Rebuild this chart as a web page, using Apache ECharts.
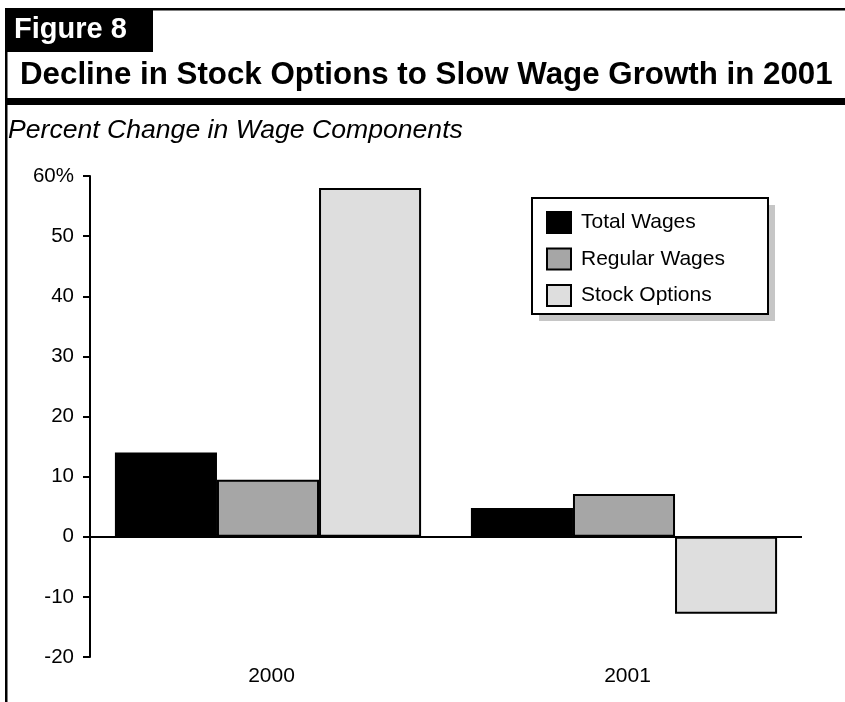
<!DOCTYPE html>
<html>
<head>
<meta charset="utf-8">
<style>
  html, body { margin: 0; padding: 0; background: #fff; }
  #chart { width: 845px; height: 702px; }
</style>
<script src="https://cdn.jsdelivr.net/npm/echarts@6/dist/echarts.min.js"></script>
</head>
<body>
<div id="chart"></div>
<script>
// Percent change in wage components, by year
const years = ['2000', '2001'];
const totalWages = [14.0, 4.8];
const regularWages = [9.5, 7.1];
const stockOptions = [58.0, -12.8];
const seriesNames = ['Total Wages', 'Regular Wages', 'Stock Options'];
const yTicks = { min: -20, max: 60, step: 10 };

const FONT = '"Liberation Sans", Arial, Helvetica, sans-serif';
const chart = echarts.init(document.getElementById('chart'), null, { renderer: 'canvas' });

function barSeries(name, values, fill) {
  return {
    name: name,
    type: 'bar',
    data: values,
    barGap: '0%',
    barCategoryGap: '14%',
    itemStyle: { color: fill, borderColor: '#000', borderWidth: 2 }
  };
}

const series = [
  barSeries(seriesNames[0], totalWages, '#000000'),
  barSeries(seriesNames[1], regularWages, '#a6a6a6'),
  barSeries(seriesNames[2], stockOptions, '#dedede')
];
// zero baseline across the plot
series[0].markLine = {
  silent: true,
  symbol: ['none', 'none'],
  label: { show: false },
  lineStyle: { color: '#000', width: 2, type: 'solid' },
  data: [{ yAxis: 0 }],
  z: 10
};

chart.setOption({
  animation: false,
  backgroundColor: '#ffffff',
  textStyle: { fontFamily: FONT },
  grid: { left: 90, right: 43, top: 176, bottom: 45, containLabel: false },
  xAxis: {
    type: 'category',
    data: years,
    axisLine: { show: false, onZero: false },
    axisTick: { show: false },
    axisLabel: { color: '#000', fontSize: 21, margin: 9, fontFamily: FONT, padding: [0, 0, 0, 7] },
    splitLine: { show: false }
  },
  yAxis: {
    type: 'value',
    min: yTicks.min,
    max: yTicks.max,
    interval: yTicks.step,
    axisLine: { show: true, lineStyle: { color: '#000', width: 2 } },
    axisTick: { show: true, length: 7, lineStyle: { color: '#000', width: 2 } },
    axisLabel: {
      color: '#000', fontSize: 20.5, margin: 16, fontFamily: FONT,
      formatter: v => (v === yTicks.max ? v + '%' : String(v))
    },
    splitLine: { show: false }
  },
  legend: {
    orient: 'vertical',
    left: 546,
    top: 211,
    padding: 0,
    z: 20,
    itemWidth: 24,
    itemHeight: 21,
    itemGap: 13.5,
    icon: 'rect',
    itemStyle: { borderColor: '#000', borderWidth: 2 },
    textStyle: { color: '#000', fontSize: 21, lineHeight: 21, fontFamily: FONT, padding: [0, 0, 0, 5] },
    data: seriesNames
  },
  graphic: [
    // frame: top rule and left rule
    { type: 'rect', shape: { x: 5, y: 8, width: 840, height: 2.5 }, style: { fill: '#000' } },
    { type: 'rect', shape: { x: 5, y: 8, width: 2.5, height: 694 }, style: { fill: '#000' } },
    // figure tab
    { type: 'rect', shape: { x: 5, y: 8, width: 148, height: 44 }, style: { fill: '#000' } },
    {
      type: 'text', left: 14, top: 15,
      style: { text: 'Figure 8', fill: '#fff', font: 'bold 29px ' + FONT }
    },
    // title and its heavy underline
    {
      type: 'text', left: 20, top: 60,
      style: { text: 'Decline in Stock Options to Slow Wage Growth in 2001', fill: '#000', font: 'bold 31.3px ' + FONT }
    },
    { type: 'rect', shape: { x: 5, y: 98, width: 840, height: 7 }, style: { fill: '#000' } },
    // subtitle
    {
      type: 'text', left: 8, top: 117,
      style: { text: 'Percent Change in Wage Components', fill: '#000', font: 'italic 26.6px ' + FONT }
    },
    // legend frame with offset shadow
    { type: 'rect', z: 1, shape: { x: 539, y: 205, width: 236, height: 116 }, style: { fill: '#c6c6c6' } },
    { type: 'rect', z: 2, shape: { x: 532, y: 198, width: 236, height: 116 }, style: { fill: '#fff', stroke: '#000', lineWidth: 2 } }
  ],
  series: series
});
</script>
</body>
</html>
